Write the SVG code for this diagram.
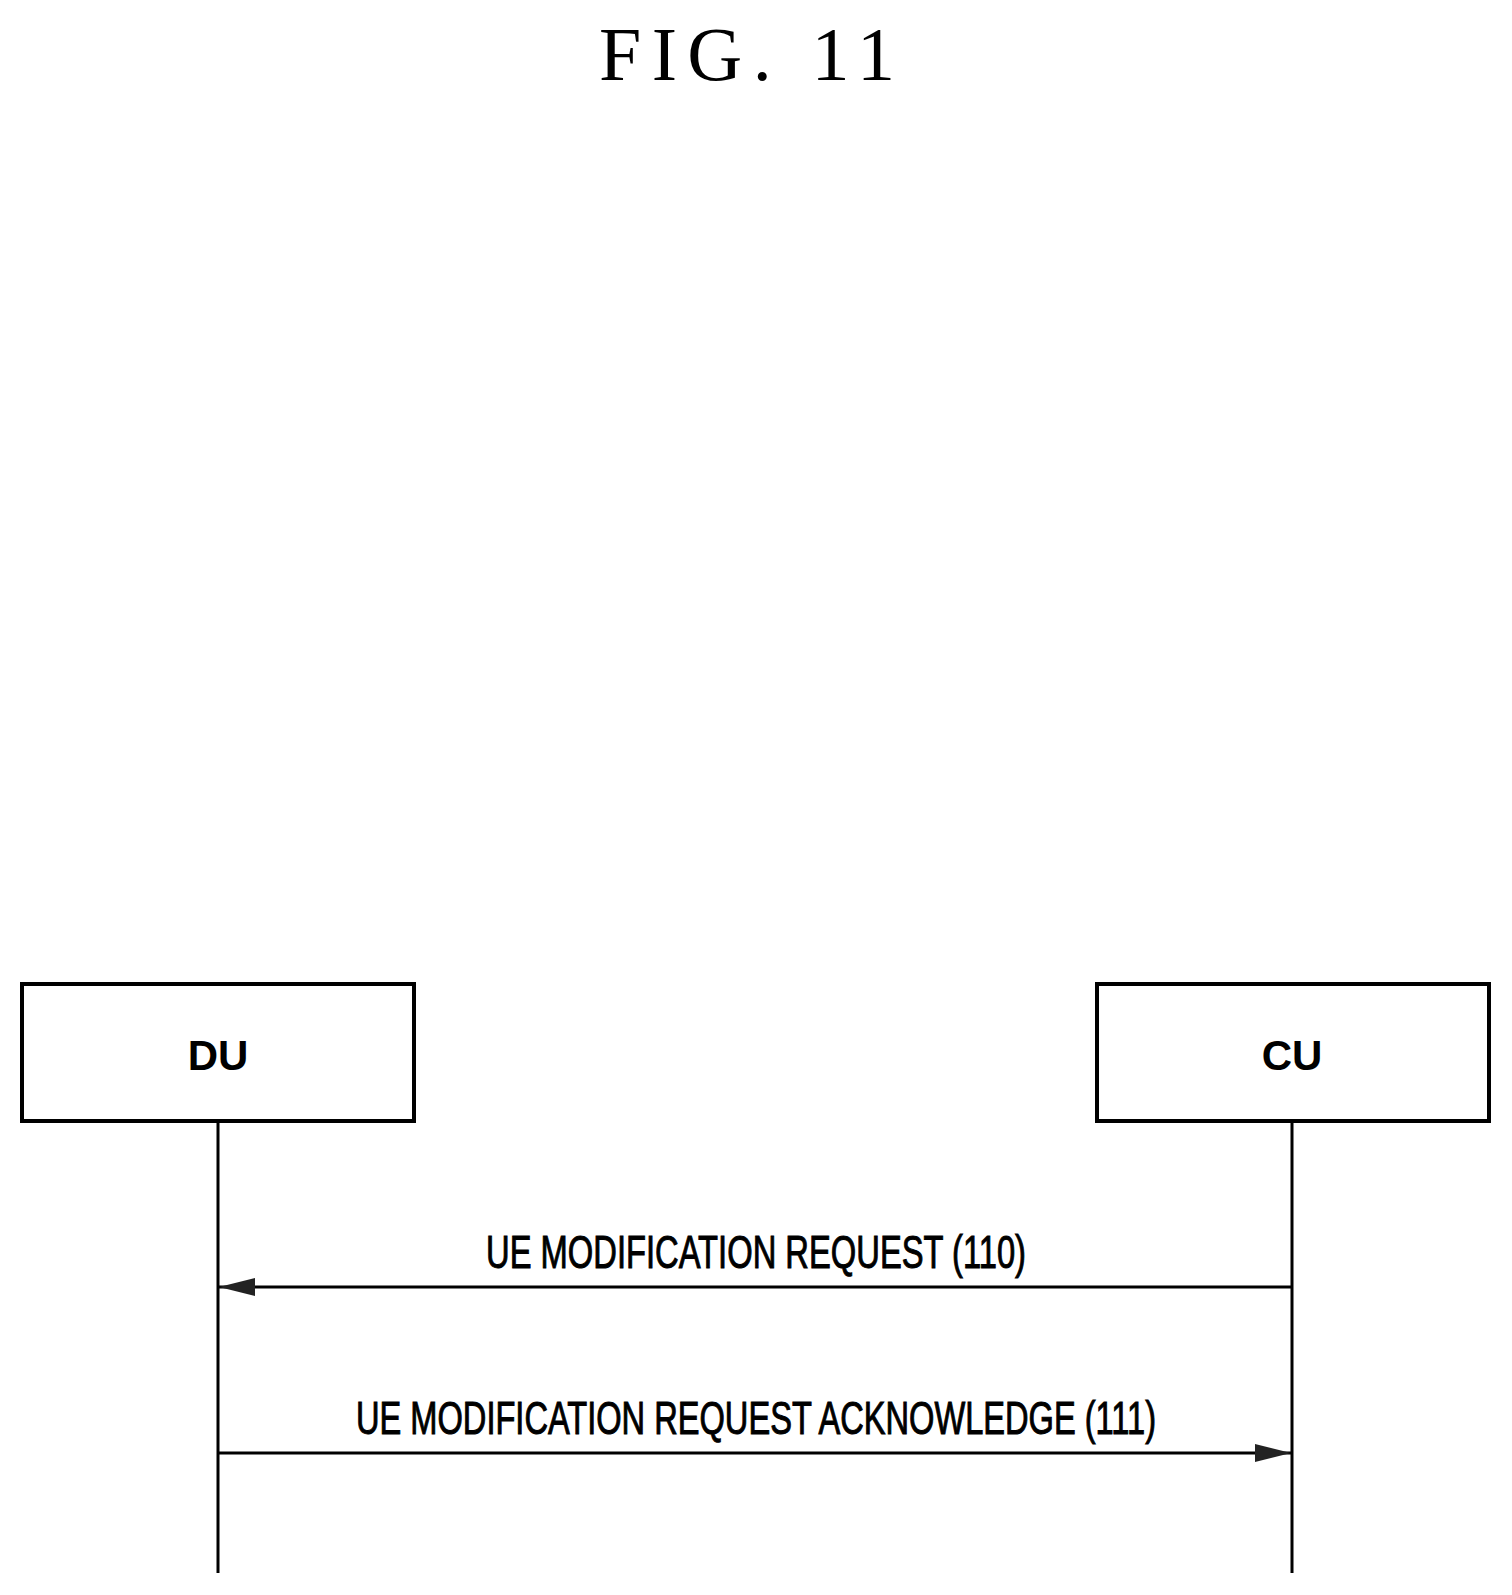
<svg xmlns="http://www.w3.org/2000/svg" width="1512" height="1595" viewBox="0 0 1512 1595">
<style>
.box{fill:#fff;stroke:#000;stroke-width:4}
.ll{stroke:#000;stroke-width:3;fill:none}
.lbl{font-family:"Liberation Sans",sans-serif;font-size:46px;fill:#000;text-anchor:middle;stroke:#000;stroke-width:1}
.nm{font-family:"Liberation Sans",sans-serif;font-size:42px;font-weight:bold;fill:#000;text-anchor:middle}
</style>
<defs>
<marker id="ah2" markerWidth="36" markerHeight="18" refX="36" refY="9" orient="auto" markerUnits="userSpaceOnUse" viewBox="0 0 36 18"><path d="M0,0 L36,9 L0,18 Z" fill="#222"/></marker></defs>
<rect width="1512" height="1595" fill="#fff"/>
<text x="747" y="80" font-family="Liberation Serif,serif" font-size="76" text-anchor="middle" textLength="296" lengthAdjust="spacing">FIG. 11</text>
<g id="DU"><rect class="box" x="22" y="984" width="392" height="137"/><text class="nm" x="218" y="1070">DU</text></g>
<g id="CU"><rect class="box" x="1097" y="984" width="392" height="137"/><text class="nm" x="1292" y="1070">CU</text></g>
<g id="connectors">
<line class="ll" x1="218" y1="1121" x2="218" y2="1573"/>
<line class="ll" x1="1292" y1="1121" x2="1292" y2="1573"/>
<line class="ll" x1="1292" y1="1287" x2="219" y2="1287" marker-end="url(#ah2)"/>
<line class="ll" x1="218" y1="1453" x2="1291" y2="1453" marker-end="url(#ah2)"/>
<text class="lbl" x="756" y="1268" textLength="540" lengthAdjust="spacingAndGlyphs">UE MODIFICATION REQUEST (110)</text>
<text class="lbl" x="756" y="1434" textLength="800" lengthAdjust="spacingAndGlyphs">UE MODIFICATION REQUEST ACKNOWLEDGE (111)</text>
</g>
</svg>
